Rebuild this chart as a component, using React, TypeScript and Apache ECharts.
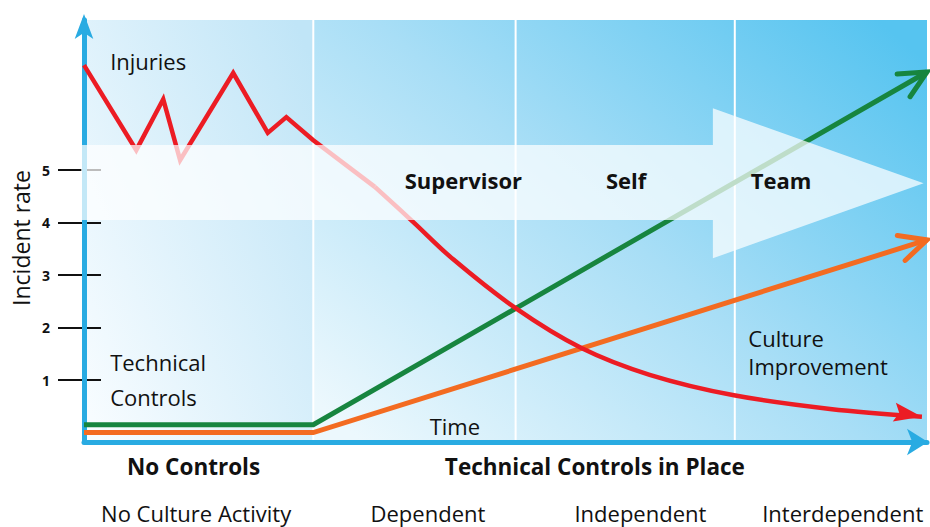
import React, { useEffect, useRef } from 'react';
import * as echarts from 'echarts';

const FONT = '"Open Sans", "Noto Sans", sans-serif';

// axis ranges and ticks
const xRange = [0, 100];
const yRange = [-0.18, 7.86];
const yTickValues = [1, 2, 3, 4, 5];

// zones and separators
const zoneStart = [0, 27.2];
const zoneEnd = [27.2, 100];
const separatorX = [27.2, 51.2, 77.2];

// series values
const injuriesEarlyX = [0, 6.2, 9.4, 11.4, 17.7, 21.8, 24.0, 27.2, 34.5];
const injuriesEarlyY = [7.0, 5.38, 6.35, 5.19, 6.85, 5.71, 6.01, 5.57, 4.68];
const injuriesLateX = [34.5, 39.0, 43.8, 51.2, 59.0, 67.1, 77.1, 88.5, 99.4];
const injuriesLateY = [4.68, 4.02, 3.3, 2.37, 1.61, 1.1, 0.71, 0.45, 0.3];
const controlsX = [0, 27.2, 100];
const controlsY = [0.15, 0.15, 6.87];
const cultureX = [0, 27.2, 100];
const cultureY = [0, 0, 3.67];

// maturity band arrow
const bandX = [-0.35, 74.6, 74.6, 99.6, 74.6, 74.6, -0.35];
const bandY = [5.48, 5.48, 6.18, 4.75, 3.32, 4.05, 4.05];
const stageNames = ['Supervisor', 'Self', 'Team'];
const stageX = [45.0, 64.3, 82.7];
const stageY = [4.82, 4.82, 4.82];

// annotations
const noteText = ['Injuries', 'Technical\nControls', 'Time', 'Culture\nImprovement'];
const noteX = [3.1, 3.1, 41.0, 78.8];
const noteY = [7.08, 1.02, 0.12, 1.53];

// x axis category labels
const controlLabels = ['No Controls', 'Technical Controls in Place'];
const controlLabelX = [13.0, 60.6];
const cultureLabels = ['No Culture Activity', 'Dependent', 'Independent', 'Interdependent'];
const cultureLabelX = [13.3, 40.8, 66.0, 90.0];

const RED = '#EC1C24';
const GREEN = '#17853F';
const ORANGE = '#F36B21';
const BLUE = '#29ABE2';

const noteLineHeight = [30, 35, 30, 28];

export default function App() {
  const ref = useRef<HTMLDivElement>(null);
  useEffect(() => {
    if (!ref.current) return;
    const chart = echarts.init(ref.current, null, { renderer: 'svg' });
    const pairs = (xs: number[], ys: number[]) => xs.map((x, i) => [x, ys[i]]);
    const n = controlsX.length;
    const m = injuriesLateX.length;
    const arrowData = [
      [controlsX[n - 2], controlsY[n - 2], controlsX[n - 1], controlsY[n - 1], 0],
      [cultureX[n - 2], cultureY[n - 2], cultureX[n - 1], cultureY[n - 1], 0],
      [injuriesLateX[m - 2], injuriesLateY[m - 2], injuriesLateX[m - 1], injuriesLateY[m - 1], 1],
    ];
    const arrowColors = [GREEN, ORANGE, RED];
    const zoneGradients = [
      [
        { offset: 0, color: '#F7FCFF' },
        { offset: 1, color: '#C0E5F7' },
      ],
      [
        { offset: 0, color: '#ECF8FD' },
        { offset: 0.5, color: '#A8DEF6' },
        { offset: 1, color: '#56C4F0' },
      ],
    ];

    const option: any = {
      animation: false,
      backgroundColor: '#ffffff',
      textStyle: { fontFamily: FONT },
      grid: { left: 84, right: 3, top: 20, bottom: 85, containLabel: false, outerBoundsMode: 'none' },
      graphic: [
        {
          type: 'text',
          x: 21,
          y: 238,
          rotation: Math.PI / 2,
          style: {
            text: 'Incident rate',
            fontFamily: FONT,
            fontSize: 23,
            fill: '#111',
            align: 'center',
            verticalAlign: 'middle',
          },
        },
      ],
      xAxis: [
        {
          type: 'value',
          position: 'bottom',
          min: xRange[0],
          max: xRange[1],
          z: 2,
          axisLine: {
            show: true,
            onZero: false,
            lineStyle: { color: BLUE, width: 5 },
            symbol: ['none', 'arrow'],
            symbolSize: [20, 21],
            symbolOffset: [0, 1],
          },
          axisTick: { show: false },
          splitLine: { show: false },
          axisLabel: {
            customValues: controlLabelX,
            formatter: (v: number) => controlLabels[controlLabelX.indexOf(v)] ?? '',
            margin: 24,
            verticalAlign: 'middle',
            fontFamily: FONT,
            fontWeight: 'bold',
            fontSize: 22.5,
            color: '#111',
          },
        },
        {
          type: 'value',
          position: 'bottom',
          min: xRange[0],
          max: xRange[1],
          z: 1,
          axisLine: { show: false, onZero: false },
          axisTick: { show: false },
          splitLine: { show: false },
          axisLabel: {
            customValues: cultureLabelX,
            formatter: (v: number) => cultureLabels[cultureLabelX.indexOf(v)] ?? '',
            margin: 71,
            verticalAlign: 'middle',
            fontFamily: FONT,
            fontSize: 22,
            color: '#111',
          },
        },
      ],
      yAxis: [
        {
          type: 'value',
          position: 'left',
          min: yRange[0],
          max: yRange[1],
          z: 2,
          axisLine: {
            show: true,
            onZero: false,
            lineStyle: { color: BLUE, width: 5 },
            symbol: ['none', 'arrow'],
            symbolSize: [14, 25],
            symbolOffset: [0, 6],
          },
          axisTick: { show: false },
          axisLabel: { show: false },
          splitLine: { show: false },
        },
        {
          type: 'value',
          position: 'left',
          offset: 26,
          min: yRange[0],
          max: yRange[1],
          z: 1,
          axisLine: { show: false, onZero: false },
          axisTick: {
            show: true,
            inside: true,
            length: 43,
            customValues: yTickValues,
            lineStyle: { color: '#111', width: 2 },
          },
          axisLabel: {
            customValues: yTickValues,
            margin: 8,
            fontFamily: FONT,
            fontWeight: 'bold',
            fontSize: 14,
            color: '#111',
          },
          splitLine: { show: false },
        },
      ],
      series: [
        {
          type: 'custom',
          z: 0,
          silent: true,
          data: zoneStart.map((s, i) => [s, zoneEnd[i], i]),
          renderItem: (params: any, api: any) => {
            const i = api.value(2);
            const p0 = api.coord([api.value(0), yRange[1]]);
            const p1 = api.coord([api.value(1), yRange[0]]);
            return {
              type: 'rect',
              shape: { x: p0[0], y: p0[1], width: p1[0] - p0[0], height: p1[1] - p0[1] },
              style: { fill: new echarts.graphic.LinearGradient(0, 0.9, 1, 0.1, zoneGradients[i]) },
            };
          },
        },
        {
          type: 'custom',
          z: 0,
          silent: true,
          data: separatorX.map((x) => [x, 0]),
          renderItem: (params: any, api: any) => {
            const p0 = api.coord([api.value(0), yRange[1]]);
            const p1 = api.coord([api.value(0), yRange[0]]);
            return {
              type: 'line',
              z2: 10,
              shape: { x1: p0[0], y1: p0[1], x2: p1[0], y2: p1[1] },
              style: { stroke: '#ffffff', lineWidth: 2 },
            };
          },
        },
        {
          type: 'line',
          name: 'Culture',
          z: 3,
          clip: false,
          silent: true,
          symbol: 'none',
          data: pairs(cultureX, cultureY),
          lineStyle: { color: ORANGE, width: 5, join: 'miter' },
        },
        {
          type: 'line',
          name: 'Technical Controls',
          z: 3,
          clip: false,
          silent: true,
          symbol: 'none',
          data: pairs(controlsX, controlsY),
          lineStyle: { color: GREEN, width: 5, join: 'miter' },
        },
        {
          type: 'line',
          name: 'Injuries',
          z: 3,
          clip: false,
          silent: true,
          symbol: 'none',
          data: pairs(injuriesEarlyX, injuriesEarlyY),
          lineStyle: { color: RED, width: 4.5, join: 'miter' },
        },
        {
          type: 'line',
          name: 'Injuries trend',
          z: 3,
          clip: false,
          silent: true,
          symbol: 'none',
          smooth: 0.35,
          data: pairs(injuriesLateX, injuriesLateY),
          lineStyle: { color: RED, width: 4.5 },
        },
        {
          type: 'custom',
          z: 4,
          silent: true,
          data: arrowData,
          renderItem: (params: any, api: any) => {
            const a = api.coord([api.value(0), api.value(1)]);
            const b = api.coord([api.value(2), api.value(3)]);
            const kind = api.value(4);
            const color = arrowColors[params.dataIndex];
            const ang = Math.atan2(b[1] - a[1], b[0] - a[0]) + (kind === 1 ? 0.08 : 0);
            const back = ang + Math.PI;
            const bx = Math.cos(back);
            const by = Math.sin(back);
            if (kind === 1) {
              const L = 28;
              const W = 9.5;
              const N = 23;
              const px = -by;
              const py = bx;
              return {
                type: 'polygon',
                shape: {
                  points: [
                    b,
                    [b[0] + bx * L + px * W, b[1] + by * L + py * W],
                    [b[0] + bx * N, b[1] + by * N],
                    [b[0] + bx * L - px * W, b[1] + by * L - py * W],
                  ],
                },
                style: { fill: color },
              };
            }
            const L = 30;
            const s = 0.45;
            return {
              type: 'polyline',
              shape: {
                points: [
                  [b[0] + L * Math.cos(back + s), b[1] + L * Math.sin(back + s)],
                  b,
                  [b[0] + L * Math.cos(back - s), b[1] + L * Math.sin(back - s)],
                ],
              },
              style: { stroke: color, lineWidth: 5, fill: 'none', lineCap: 'round', lineJoin: 'miter' },
            };
          },
        },
        {
          type: 'custom',
          z: 5,
          silent: true,
          data: [[bandX[0], bandY[0]]],
          renderItem: (params: any, api: any) => {
            const pts = bandX.map((x, i) => api.coord([x, bandY[i]]));
            return {
              type: 'polygon',
              shape: { points: pts },
              style: { fill: 'rgba(255,255,255,0.72)' },
            };
          },
        },
        {
          type: 'custom',
          z: 6,
          silent: true,
          data: stageNames.map((_, i) => [stageX[i], stageY[i], i]),
          renderItem: (params: any, api: any) => {
            const p = api.coord([api.value(0), api.value(1)]);
            return {
              type: 'text',
              x: p[0],
              y: p[1],
              style: {
                text: stageNames[api.value(2)],
                fontFamily: FONT,
                fontWeight: 'bold',
                fontSize: 22,
                fill: '#111',
                align: 'center',
                verticalAlign: 'middle',
              },
            };
          },
        },
        {
          type: 'custom',
          z: 6,
          silent: true,
          data: noteText.map((_, i) => [noteX[i], noteY[i], i]),
          renderItem: (params: any, api: any) => {
            const p = api.coord([api.value(0), api.value(1)]);
            const i = api.value(2);
            return {
              type: 'text',
              x: p[0],
              y: p[1],
              style: {
                text: noteText[i],
                fontFamily: FONT,
                fontSize: 22,
                lineHeight: noteLineHeight[i],
                fill: '#111',
                align: 'left',
                verticalAlign: 'middle',
              },
            };
          },
        },
      ],
    };
    chart.setOption(option);
    return () => chart.dispose();
  }, []);
  return (
    <div
      ref={ref}
      style={{ position: 'fixed', left: 0, top: 0, width: 930, height: 527, background: '#fff' }}
    />
  );
}
